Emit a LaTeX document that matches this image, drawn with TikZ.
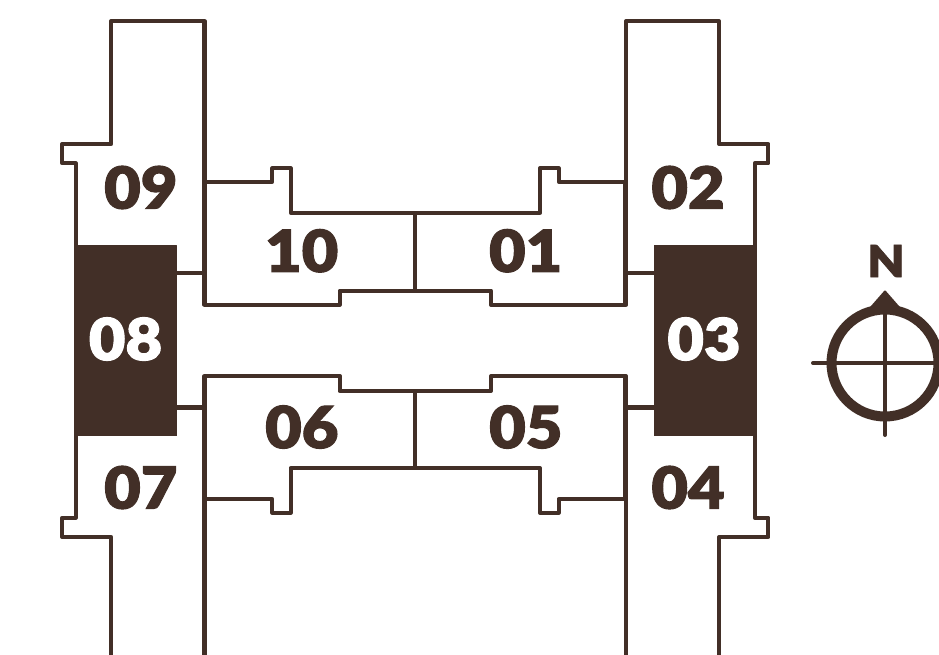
\documentclass[tikz,border=0pt]{standalone}
\usepackage{fontspec}
\newfontfamily\labfont[FakeStretch=1.09,FakeBold=1.8]{Lato Black}
\definecolor{bark}{HTML}{422F27}
\tikzset{
  x=1pt,y=-1pt,
  wall/.style={draw=bark,line width=4.1pt,line join=round,line cap=butt},
  innerwall/.style={draw=bark,line width=4.9pt},
  unit/.style={text=bark,font=\labfont\fontsize{58}{58}\selectfont,inner sep=0pt,anchor=center},
  darkunit/.style={unit,text=white},
  darkbox/.style={fill=bark,draw=bark,line width=1pt,line join=round},
  compass/.style={draw=bark,line width=10pt},
  hair/.style={draw=bark,line width=4pt,line cap=round}
}
\begin{document}
\begin{tikzpicture}
\useasboundingbox (0,0) rectangle (939,655);
\clip (0,0) rectangle (939,655);
% outer walls, upper and lower corridors
\draw[wall] (111.3,655) -- (111.3,537) -- (62.3,537) -- (62.3,517.7) -- (75.7,517.7) -- (75.7,163.3) -- (62.3,163.3) -- (62.3,144) -- (111.3,144) -- (111.3,21) -- (204.5,21) -- (204.5,304.7) -- (339.7,304.7) -- (339.7,290.7) -- (491,290.7) -- (491,304.7) -- (626,304.7) -- (626,21) -- (719,21) -- (719,144) -- (768.4,144) -- (768.4,163.3) -- (754.7,163.3) -- (754.7,517.7) -- (768.4,517.7) -- (768.4,537) -- (719,537) -- (719,655);
\draw[wall] (204.5,655) -- (204.5,376) -- (339.7,376) -- (339.7,391) -- (491,391) -- (491,376) -- (626,376) -- (626,655);
\draw[innerwall] (204.8,181) -- (204.8,305);
\draw[innerwall] (204.8,376) -- (204.8,499.5);
\draw[innerwall] (625.7,181) -- (625.7,305);
\draw[innerwall] (625.7,376) -- (625.7,499.5);
% upper units
\draw[wall] (204.5,181.7) -- (272.3,181.7) -- (272.3,168.3) -- (290.7,168.3) -- (290.7,212.7) -- (540,212.7) -- (540,168.3) -- (558.7,168.3) -- (558.7,181.7) -- (626,181.7);
\draw[wall] (415,212.7) -- (415,290.7);
% lower units
\draw[wall] (204.5,499) -- (272.3,499) -- (272.3,512.7) -- (290.7,512.7) -- (290.7,468) -- (540,468) -- (540,512.7) -- (558.7,512.7) -- (558.7,499) -- (626,499);
\draw[wall] (415,391) -- (415,468);
% stubs
\draw[wall] (177,273.3) -- (204.5,273.3);
\draw[wall] (177,407.5) -- (204.5,407.5);
\draw[wall] (654,273.3) -- (626,273.3);
\draw[wall] (654,407.5) -- (626,407.5);
% highlighted units
\path[darkbox] (75,245.5) rectangle (176.8,435.5);
\path[darkbox] (654,245.5) rectangle (755.5,435.5);
% labels
\node[unit] (u09) at (140.8,187.5) {09};
\node[unit] (u10) at (301.7,250.8) {10};
\node[darkunit] (u08) at (125.5,339) {08};
\node[unit] (u07) at (140.8,487.5) {07};
\node[unit] (u06) at (301.8,427) {06};
\node[unit] (u02) at (688,187.5) {02};
\node[unit] (u01) at (525.7,250.8) {01};
\node[darkunit] (u03) at (704,339) {03};
\node[unit] (u05) at (525.8,427) {05};
\node[unit] (u04) at (688,487.5) {04};
% compass
\draw[compass] (885,363) circle (53.5);
\draw[hair] (813,363) -- (945,363);
\draw[hair] (885,300) -- (885,435);
\fill[bark,draw=bark,line width=2pt,line join=round] (885,291.5) -- (899,307.5) -- (871,307.5) -- cycle;
\node[text=bark,font=\labfont\fontsize{44}{44}\selectfont,inner sep=0pt] (north) at (886,261) {N};
\end{tikzpicture}
\end{document}
